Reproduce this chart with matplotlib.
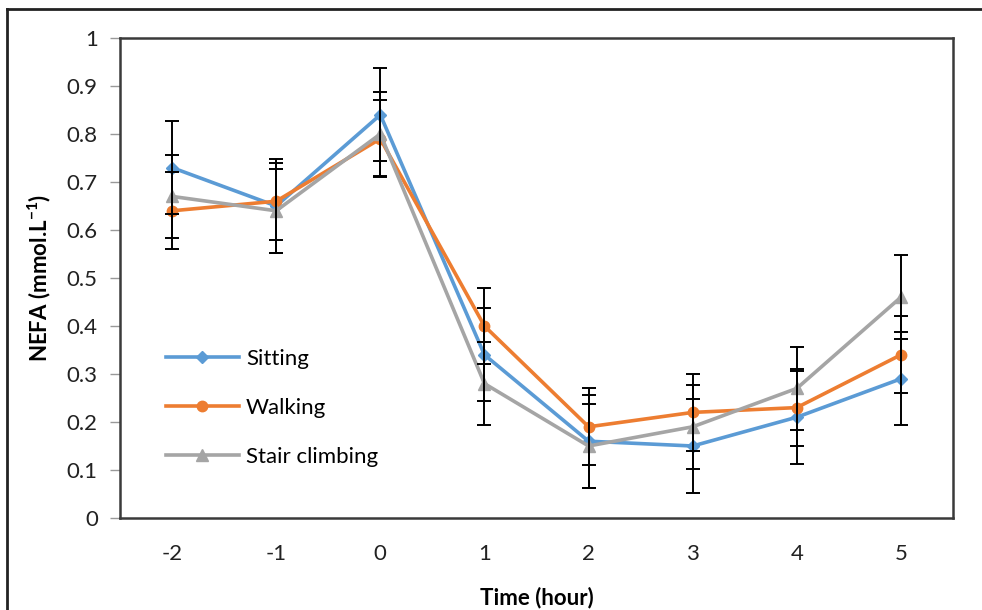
import matplotlib
matplotlib.use("Agg")
import matplotlib.pyplot as plt
from matplotlib.lines import Line2D

plt.rcParams['font.family'] = ['Lato', 'DejaVu Sans']
plt.rcParams['mathtext.fontset'] = 'custom'
plt.rcParams['mathtext.rm'] = 'Lato'
plt.rcParams['mathtext.bf'] = 'Lato:bold'

time_labels = ['-2', '-1', '0', '1', '2', '3', '4', '5']
sitting = [0.73, 0.65, 0.84, 0.34, 0.16, 0.15, 0.21, 0.29]
walking = [0.64, 0.66, 0.79, 0.40, 0.19, 0.22, 0.23, 0.34]
stair = [0.67, 0.64, 0.80, 0.28, 0.15, 0.19, 0.27, 0.46]
sitting_err = [0.097] * 8
walking_err = [0.08] * 8
stair_err = [0.087] * 8

series = [
    ('Sitting', sitting, sitting_err, '#5B9BD5', 'D', 6.5),
    ('Walking', walking, walking_err, '#ED7D31', 'o', 7.5),
    ('Stair climbing', stair, stair_err, '#A5A5A5', '^', 8.5),
]

fig = plt.figure(figsize=(9.82, 6.10), dpi=100)
ax = fig.add_axes([120/982, 1-518/610, 833/982, 480/610])

x = list(range(len(time_labels)))
for name, vals, err, col, mk, ms in series:
    ax.plot(x, vals, color=col, marker=mk, markersize=ms, linewidth=2.6,
            label=name, zorder=3)
for name, vals, err, col, mk, ms in series:
    ax.errorbar(x, vals, yerr=err, fmt='none', ecolor='black',
                elinewidth=1.4, capsize=4.7, capthick=1.4, zorder=4)

ax.set_xlim(-0.5, 7.5)
ax.set_ylim(0, 1)
ax.set_xticks(x)
ax.set_xticklabels(time_labels)
ax.set_yticks([i/10 for i in range(11)])
ax.set_yticklabels(['0', '0.1', '0.2', '0.3', '0.4', '0.5', '0.6', '0.7', '0.8', '0.9', '1'])
ax.tick_params(axis='x', length=0, pad=19, labelsize=16, colors='#222222')
ax.tick_params(axis='y', length=7, width=1, color='#999999', pad=9,
               labelsize=16, labelcolor='#222222')
for sp in ax.spines.values():
    sp.set_color('#3a3a3a')
    sp.set_linewidth(1.8)

ax.set_xlabel('Time (hour)', fontsize=16, fontweight='bold', labelpad=16)
ax.set_ylabel(r'NEFA (mmol.L$^{\mathbf{-1}}$)', fontsize=16, fontweight='bold', labelpad=10)

leg = ax.legend(loc='center left', bbox_to_anchor=(0.055, 0.229), frameon=False,
                fontsize=16, handlelength=3.3, handletextpad=0.3,
                labelspacing=1.3, borderpad=0, borderaxespad=0)

# outer frame (left and top edges)
fx = 7/982
fy = 1 - 9/610
fig.add_artist(Line2D([fx, fx], [0, fy], transform=fig.transFigure,
                      color='#222222', linewidth=2))
fig.add_artist(Line2D([fx, 1], [fy, fy], transform=fig.transFigure,
                      color='#222222', linewidth=2))

fig.savefig('out.png', dpi=100)
